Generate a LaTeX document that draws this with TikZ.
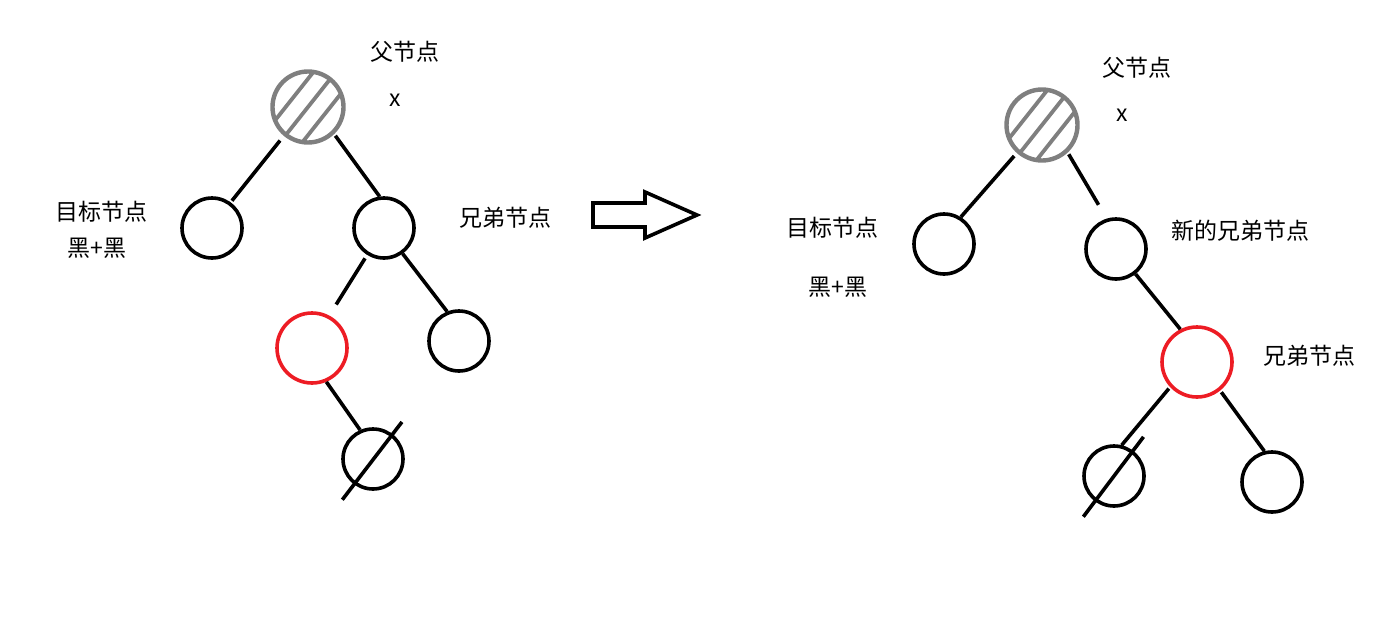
\documentclass[tikz,border=0pt]{standalone}
\usepackage{fontspec}
\setmainfont{Noto Sans CJK SC}
\usepackage{tikz}
\usetikzlibrary{calc}

\definecolor{paintred}{RGB}{237,28,36}
\definecolor{paintgray}{RGB}{127,127,127}

\begin{document}
\begin{tikzpicture}[x=1pt, y=1pt,
  tnode/.style={draw, circle, line width=3.6pt, minimum size=60pt, inner sep=0pt},
  rnode/.style={tnode, draw=paintred, minimum size=70pt},
  hatched/.style={tnode, draw=paintgray, line width=4.4pt, minimum size=71pt,
    path picture={
      \foreach \o in {-17.5,0,17.5}
        \draw[paintgray, line width=3.8pt]
          ($(path picture bounding box.center)+(141.6:\o)+(51.6:50)$) --
          ($(path picture bounding box.center)+(141.6:\o)+(231.6:50)$);
    }},
  edge/.style={line width=3.6pt},
  lbl/.style={font=\fontsize{23}{28}\selectfont, inner sep=0pt},
]
\useasboundingbox (0,0) rectangle (1386,-616);

% === Left tree ===
\node[hatched] (p1) at (308,-107) {};
\node[tnode] (t1) at (212,-228) {};
\node[tnode] (s1) at (384,-228) {};
\node[rnode] (r1) at (312,-348) {};
\node[tnode] (c1) at (459,-341) {};
\node[tnode] (n1) at (373,-459) {};

\node[lbl] (f1) at (405,-52) {父节点};
\node[lbl] (x1) at (395,-100) {x};
\node[lbl] (tl1) at (101,-212) {目标节点};
\node[lbl] (bb1) at (97,-248) {黑+黑};
\node[lbl] (sl1) at (505,-218) {兄弟节点};

\draw[edge, shorten <=6pt, shorten >=2pt] (p1.230) -- (t1.54);
\draw[edge, shorten <=2pt] (p1.314) -- (s1.98);
\draw[edge, shorten <=4pt, shorten >=13pt] (s1.238) -- (r1.62);
\draw[edge] (s1.306) -- (c1.112);
\draw[edge] (r1.293) -- (n1.114);
% null leaf
\draw[edge] ($(n1)+(233:51)$) -- ($(n1)+(52:47)$);

% === Transformation arrow ===
\draw[line width=3.6pt] (593,-203) -- (645,-203) -- (645,-192) -- (697,-215)
  -- (645,-238) -- (645,-227) -- (593,-227) -- cycle;

% === Right tree ===
\node[hatched] (p2) at (1042,-125) {};
\node[tnode] (t2) at (944,-244) {};
\node[tnode] (s2) at (1116,-249) {};
\node[rnode] (r2) at (1197,-362) {};
\node[tnode] (c2) at (1272,-482) {};
\node[tnode] (n2) at (1114,-476) {};

\node[lbl] (f2) at (1137,-68) {父节点};
\node[lbl] (x2) at (1122,-115) {x};
\node[lbl] (tl2) at (832,-228) {目标节点};
\node[lbl] (bb2) at (838,-287) {黑+黑};
\node[lbl] (ns2) at (1240,-231) {新的兄弟节点};
\node[lbl] (sl2) at (1309,-356) {兄弟节点};

\draw[edge, shorten <=4pt] (p2.228) -- (t2.58);
\draw[edge, shorten <=2pt, shorten >=16pt] (p2.313) -- (s2.107);
\draw[edge] (s2.308) -- (r2.117);
\draw[edge, shorten <=2pt] (r2.309) -- (c2.104);
\draw[edge, shorten <=2pt] (r2.223) -- (n2.76);
% null leaf
\draw[edge] ($(n2)+(233:51)$) -- ($(n2)+(53:49)$);

\end{tikzpicture}
\end{document}
